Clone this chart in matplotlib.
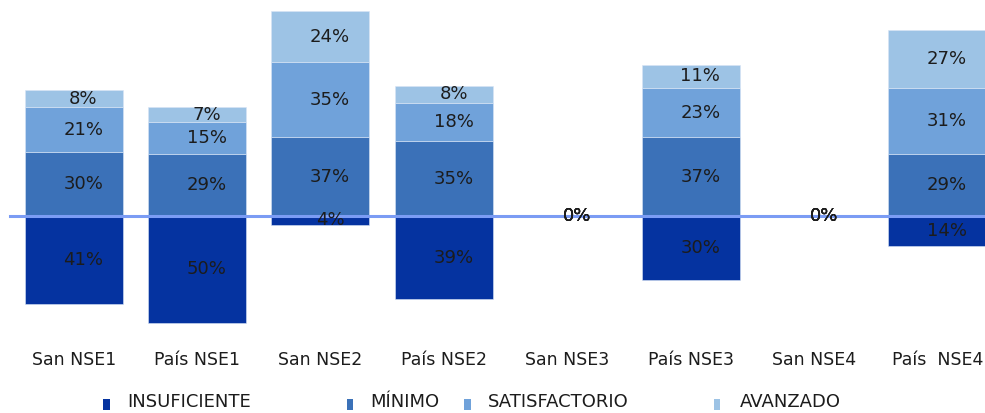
import matplotlib
matplotlib.use("Agg")
import matplotlib.pyplot as plt
from matplotlib.patches import Rectangle
import numpy as np

# data
categories = ["San NSE1", "País NSE1", "San NSE2", "País NSE2",
              "San NSE3", "País NSE3", "San NSE4", "País  NSE4"]
insuficiente = [41, 50, 4, 39, 0, 30, 0, 14]
minimo = [30, 29, 37, 35, 0, 37, 0, 29]
satisfactorio = [21, 15, 35, 18, 0, 23, 0, 31]
avanzado = [8, 7, 24, 8, 0, 11, 0, 27]

series_names = ["INSUFICIENTE", "MÍNIMO", "SATISFACTORIO", "AVANZADO"]
colors = ["#0533a0", "#3b71b8", "#70a2da", "#9dc3e5"]

fig = plt.figure(figsize=(9.85, 4.13), dpi=100)
ax = fig.add_axes([0.0122, 0.191, 1.002, 0.806])

x = np.arange(len(categories))
w = 0.795
ins = np.array(insuficiente)
mn = np.array(minimo)
sa = np.array(satisfactorio)
av = np.array(avanzado)

ax.bar(x, -ins, w, color=colors[0], edgecolor="#d8e4f5", linewidth=0.4)
ax.bar(x, mn, w, color=colors[1], edgecolor="#d8e4f5", linewidth=0.4)
ax.bar(x, sa, w, bottom=mn, color=colors[2], edgecolor="#d8e4f5", linewidth=0.4)
ax.bar(x, av, w, bottom=mn + sa, color=colors[3], edgecolor="#d8e4f5", linewidth=0.4)

# zero line starts a touch left of the axes
ax.axhline(0, xmin=-0.002, color="#7b9cf4", lw=2.2, zorder=3, clip_on=False)

# value labels, centred in each segment (shifted a bit right as in the original)
segs = [(-ins / 2, ins), (mn / 2, mn), (mn + sa / 2, sa), (mn + sa + av / 2, av)]
for ys, vals in segs:
    for xi, yi, v in zip(x, ys, vals):
        ax.annotate(f"{v}%", (xi, yi), xytext=(7, 0), textcoords="offset points",
                    ha="center", va="center", fontsize=13, color="#1c1c1c", zorder=5)

ax.set_xlim(-0.5, 7.5)
ax.set_ylim(-55.3, 100.7)
ax.set_xticks(x)
ax.set_xticklabels(categories, fontsize=12.5, color="#1c1c1c")
ax.tick_params(axis="x", length=0, pad=12)
ax.set_yticks([])
for s in ax.spines.values():
    s.set_visible(False)

# legend placed by hand, spacing as in the original
leg_x = [0.1046, 0.352, 0.4715, 0.7245]
text_x = [0.129, 0.3756, 0.495, 0.7515]
for lx, tx, c, name in zip(leg_x, text_x, colors, series_names):
    fig.add_artist(Rectangle((lx, 0.0075), 0.0068, 0.026, transform=fig.transFigure,
                             color=c, lw=0))
    fig.text(tx, 0.027, name, fontsize=13, color="#1c1c1c", va="center", ha="left")

fig.savefig("out.png", dpi=100)
